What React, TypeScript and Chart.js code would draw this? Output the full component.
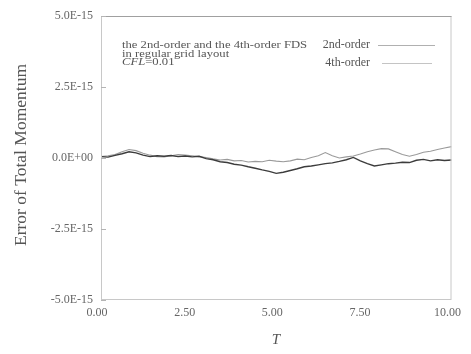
import React, { useEffect, useRef } from "react";
import { Chart, registerables } from "chart.js";

Chart.register(...registerables);

// Time samples T
const times = [
  0.0, 0.2, 0.4, 0.6, 0.8, 1.0, 1.2, 1.4, 1.6, 1.8,
  2.0, 2.2, 2.4, 2.6, 2.8, 3.0, 3.2, 3.4, 3.6, 3.8,
  4.0, 4.2, 4.4, 4.6, 4.8, 5.0, 5.2, 5.4, 5.6, 5.8,
  6.0, 6.2, 6.4, 6.6, 6.8, 7.0, 7.2, 7.4, 7.6, 7.8,
  8.0, 8.2, 8.4, 8.6, 8.8, 9.0, 9.2, 9.4, 9.6, 9.8, 10.0,
];

// Error of total momentum, in units of 1E-15
const secondOrder = [
  0.05, 0.03, 0.09, 0.15, 0.22, 0.18, 0.10, 0.05, 0.08, 0.06,
  0.09, 0.05, 0.07, 0.04, 0.06, -0.02, -0.06, -0.13, -0.16, -0.22,
  -0.25, -0.31, -0.36, -0.42, -0.47, -0.54, -0.50, -0.44, -0.38, -0.31,
  -0.28, -0.24, -0.20, -0.17, -0.12, -0.06, 0.02, -0.10, -0.20, -0.28,
  -0.24, -0.20, -0.18, -0.15, -0.16, -0.08, -0.05, -0.10, -0.06, -0.09, -0.07,
];

const fourthOrder = [
  0.05, 0.08, 0.12, 0.22, 0.30, 0.26, 0.17, 0.10, 0.05, 0.04,
  0.08, 0.12, 0.10, 0.08, 0.05, 0.02, -0.03, -0.07, -0.05, -0.10,
  -0.09, -0.14, -0.12, -0.13, -0.08, -0.11, -0.13, -0.10, -0.04, -0.06,
  0.02, 0.08, 0.19, 0.08, 0.00, 0.04, 0.07, 0.14, 0.22, 0.28,
  0.33, 0.32, 0.22, 0.12, 0.06, 0.12, 0.20, 0.24, 0.30, 0.35, 0.40,
];

const seriesNames = ["2nd-order", "4th-order"];
const seriesColors = ["#3c3c3c", "#9a9a9a"];
const noteLines = ["the 2nd-order and the 4th-order FDS", "in regular grid layout"];
const xTitle = "T";
const yTitle = "Error of Total Momentum";

const SERIF = "'Liberation Serif', 'Times New Roman', serif";

const formatY = (v: number) => {
  if (Math.abs(v) < 1e-9) return "0.0E+00";
  return `${v.toFixed(1)}E-15`;
};

const decorations = {
  id: "decorations",
  afterDraw(chart: any) {
    const { ctx, chartArea } = chart;
    const { left, right, top, bottom } = chartArea;
    ctx.save();

    // faint frame
    ctx.strokeStyle = "#c8c8c8";
    ctx.lineWidth = 1;
    ctx.strokeRect(left + 0.5, top + 0.5, right - left - 1, bottom - top - 1);
    ctx.strokeStyle = "#a0a0a0";
    ctx.beginPath();
    ctx.moveTo(left, top + 0.5);
    ctx.lineTo(right, top + 0.5);
    ctx.stroke();

    // short inward ticks on the left axis
    const ys = chart.scales.y;
    ctx.strokeStyle = "#b4b4b4";
    [-5, -2.5, 0, 2.5, 5].forEach((v) => {
      const py = Math.round(ys.getPixelForValue(v)) + 0.5;
      ctx.beginPath();
      ctx.moveTo(left, py);
      ctx.lineTo(left + 5, py);
      ctx.stroke();
    });

    // annotation text, set slightly wide
    ctx.fillStyle = "#555";
    ctx.textBaseline = "middle";
    ctx.textAlign = "left";
    ctx.save();
    ctx.translate(122, 0);
    ctx.scale(1.15, 1);
    ctx.font = `11px ${SERIF}`;
    ctx.fillText(noteLines[0], 0, 45);
    ctx.fillText(noteLines[1], 0, 54);
    ctx.font = `italic 11px ${SERIF}`;
    const cfl = "CFL";
    ctx.fillText(cfl, 0, 62.5);
    const w = ctx.measureText(cfl).width;
    ctx.font = `11px ${SERIF}`;
    ctx.fillText("=0.01", w, 62.5);
    ctx.restore();

    // legend
    ctx.font = `12px ${SERIF}`;
    ctx.textAlign = "right";
    ctx.fillText(seriesNames[0], 370, 45);
    ctx.fillText(seriesNames[1], 370, 63);
    ctx.lineWidth = 1;
    ctx.strokeStyle = "#b0b0b0";
    ctx.beginPath();
    ctx.moveTo(378, 45.5);
    ctx.lineTo(435, 45.5);
    ctx.stroke();
    ctx.strokeStyle = "#c4c4c4";
    ctx.beginPath();
    ctx.moveTo(382, 63.5);
    ctx.lineTo(432, 63.5);
    ctx.stroke();

    // axis titles
    ctx.fillStyle = "#555";
    ctx.textAlign = "center";
    ctx.font = `italic 15px ${SERIF}`;
    ctx.fillText(xTitle, 276, 340);
    ctx.save();
    ctx.translate(21, 155);
    ctx.rotate(-Math.PI / 2);
    ctx.font = `17.5px ${SERIF}`;
    ctx.fillText(yTitle, 0, 0);
    ctx.restore();

    ctx.restore();
  },
};

export default function App() {
  const canvasRef = useRef<HTMLCanvasElement>(null);

  useEffect(() => {
    if (!canvasRef.current) return;
    const chart = new Chart(canvasRef.current, {
      type: "line",
      data: {
        datasets: [
          {
            label: seriesNames[0],
            data: times.map((t, i) => ({ x: t, y: secondOrder[i] })),
            borderColor: seriesColors[0],
            borderWidth: 1.4,
            pointRadius: 0,
            tension: 0,
          },
          {
            label: seriesNames[1],
            data: times.map((t, i) => ({ x: t, y: fourthOrder[i] })),
            borderColor: seriesColors[1],
            borderWidth: 1.1,
            pointRadius: 0,
            tension: 0,
          },
        ],
      },
      options: {
        animation: false,
        responsive: false,
        maintainAspectRatio: false,
        layout: { padding: { left: 0, right: 15, top: 16, bottom: 0 } },
        plugins: {
          legend: { display: false },
          tooltip: { enabled: false },
        },
        scales: {
          x: {
            type: "linear",
            min: 0,
            max: 10,
            grid: { display: false, drawTicks: false },
            border: { display: false },
            ticks: {
              stepSize: 2.5,
              padding: 6,
              labelOffset: -4,
              color: "#666",
              font: { family: SERIF, size: 12 },
              callback: (v: any) => Number(v).toFixed(2),
              maxRotation: 0,
            },
            afterFit: (s: any) => {
              s.height = 54;
            },
          },
          y: {
            type: "linear",
            min: -5,
            max: 5,
            grid: { display: false, drawTicks: false },
            border: { display: false },
            ticks: {
              stepSize: 2.5,
              padding: 8,
              color: "#666",
              font: { family: SERIF, size: 12 },
              callback: (v: any) => formatY(Number(v)),
            },
            afterFit: (s: any) => {
              s.width = 101;
            },
          },
        },
      },
      plugins: [decorations],
    });
    return () => chart.destroy();
  }, []);

  return (
    <div style={{ position: "fixed", left: 0, top: 0, width: 471, height: 354, background: "#fff" }}>
      <canvas ref={canvasRef} width={471} height={354} />
    </div>
  );
}
